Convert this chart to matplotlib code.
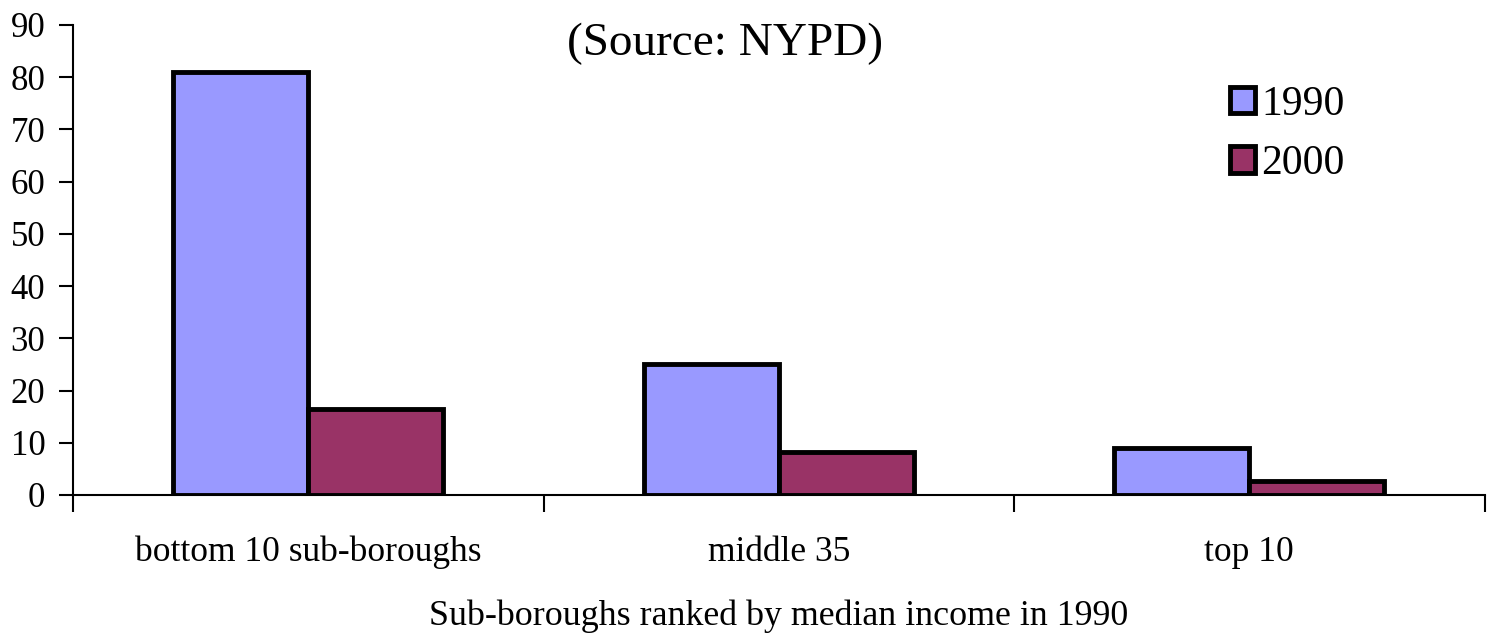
import numpy as np
import matplotlib.pyplot as plt
from matplotlib.ticker import FixedLocator, NullFormatter

categories = ["bottom 10 sub-boroughs", "middle 35", "top 10"]
vals_1990 = [81, 25, 9]
vals_2000 = [16.5, 8.2, 2.7]
years = ["1990", "2000"]

plt.rcParams["font.family"] = ["Liberation Serif", "DejaVu Serif"]

fig = plt.figure(figsize=(14.92, 6.39), dpi=100)
ax = fig.add_axes([0.049, 0.2254, 0.946, 0.7356])

x = np.arange(len(categories))
w = 0.287
ax.bar(x - w / 2, vals_1990, w, color="#9999ff", edgecolor="black",
       linewidth=3.5, label=years[0])
ax.bar(x + w / 2, vals_2000, w, color="#993366", edgecolor="black",
       linewidth=3.5, label=years[1])

ax.set_xlim(-0.5, len(categories) - 0.5)
ax.set_ylim(0, 90)
ax.set_yticks(range(0, 91, 10))
ax.set_xticks(x)
ax.set_xticklabels(categories)
ax.xaxis.set_minor_locator(FixedLocator(np.arange(-0.5, len(categories), 1)))
ax.xaxis.set_minor_formatter(NullFormatter())
ax.tick_params(axis="x", which="major", length=0, pad=29.5, labelsize=25.5)
ax.tick_params(axis="x", which="minor", length=12, width=1.5, direction="out")
ax.tick_params(axis="y", length=10, width=1.5, direction="out", labelsize=25, pad=10)

for s in ["top", "right"]:
    ax.spines[s].set_visible(False)
ax.spines["left"].set_linewidth(1.5)
ax.spines["bottom"].set_linewidth(1.5)

ax.set_xlabel("Sub-boroughs ranked by median income in 1990", fontsize=25.8, labelpad=22)
ax.text(0.462, 0.96, "(Source: NYPD)", transform=ax.transAxes, ha="center",
        va="center", fontsize=34)

ax.legend(loc="upper left", bbox_to_anchor=(0.805, 0.916), frameon=False,
          borderpad=0, fontsize=30, handlelength=0.6, handleheight=0.6,
          handletextpad=0.15, labelspacing=0.5)

fig.savefig("out.png", dpi=100)
